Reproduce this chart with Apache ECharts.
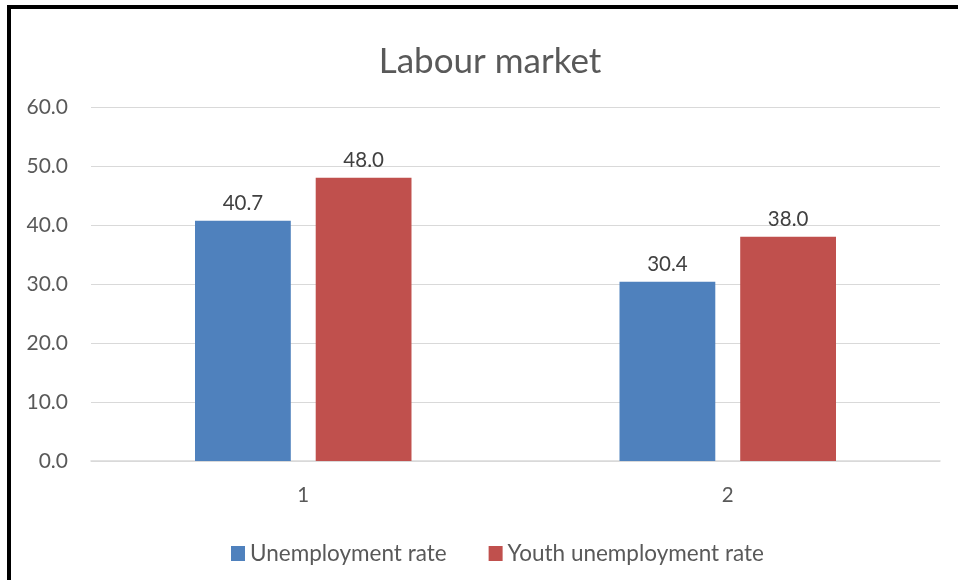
<!DOCTYPE html>
<html>
<head>
<meta charset="utf-8">
<script src="https://cdn.jsdelivr.net/npm/echarts@6/dist/echarts.min.js"></script>
<style>
  html, body { margin: 0; padding: 0; background: #fff; }
  #chart { width: 958px; height: 580px; }
</style>
</head>
<body>
<div id="chart"></div>
<script>
const categories = ['1', '2'];
const unemployment = [40.7, 30.4];
const youthUnemployment = [48.0, 38.0];
const yTicks = { min: 0, max: 60, interval: 10 };

const font = 'Lato, "Liberation Sans", sans-serif';
const chart = echarts.init(document.getElementById('chart'));

const labelStyle = {
  show: true,
  position: 'top',
  distance: 7,
  color: '#404040',
  fontSize: 20.5,
  fontFamily: font,
  formatter: p => p.value.toFixed(1)
};

chart.setOption({
  animation: false,
  title: {
    text: 'Labour market',
    left: 485,
    textAlign: 'center',
    top: 39,
    textStyle: { color: '#595959', fontSize: 35, fontWeight: 'normal', fontFamily: font }
  },
  legend: {
    left: 226,
    top: 537,
    itemWidth: 14,
    itemHeight: 15,
    itemGap: 42,
    icon: 'rect',
    textStyle: { color: '#595959', fontSize: 22.5, fontFamily: font }
  },
  grid: { left: 91, right: 18, top: 107, bottom: 119 },
  xAxis: {
    type: 'category',
    data: categories,
    axisLine: { lineStyle: { color: '#d9d9d9', width: 1.5 } },
    axisTick: { show: false },
    axisLabel: { color: '#595959', fontSize: 20.5, fontFamily: font, margin: 24 }
  },
  yAxis: {
    type: 'value',
    min: yTicks.min,
    max: yTicks.max,
    interval: yTicks.interval,
    axisLine: { show: false },
    axisTick: { show: false },
    splitLine: { lineStyle: { color: '#d9d9d9', width: 1.2 } },
    axisLabel: {
      color: '#595959', fontSize: 21, fontFamily: font, margin: 23,
      formatter: v => v.toFixed(1)
    }
  },
  series: [
    {
      name: 'Unemployment rate',
      type: 'bar',
      data: unemployment,
      itemStyle: { color: '#4F81BD' },
      barGap: '26%',
      barCategoryGap: '49%',
      label: labelStyle
    },
    {
      name: 'Youth unemployment rate',
      type: 'bar',
      data: youthUnemployment,
      itemStyle: { color: '#C0504D' },
      label: labelStyle
    }
  ],
  graphic: [{
    type: 'rect',
    shape: { x: 9, y: 7, width: 1000, height: 700 },
    style: { fill: 'none', stroke: '#000', lineWidth: 4 },
    silent: true
  }]
});
</script>
</body>
</html>
